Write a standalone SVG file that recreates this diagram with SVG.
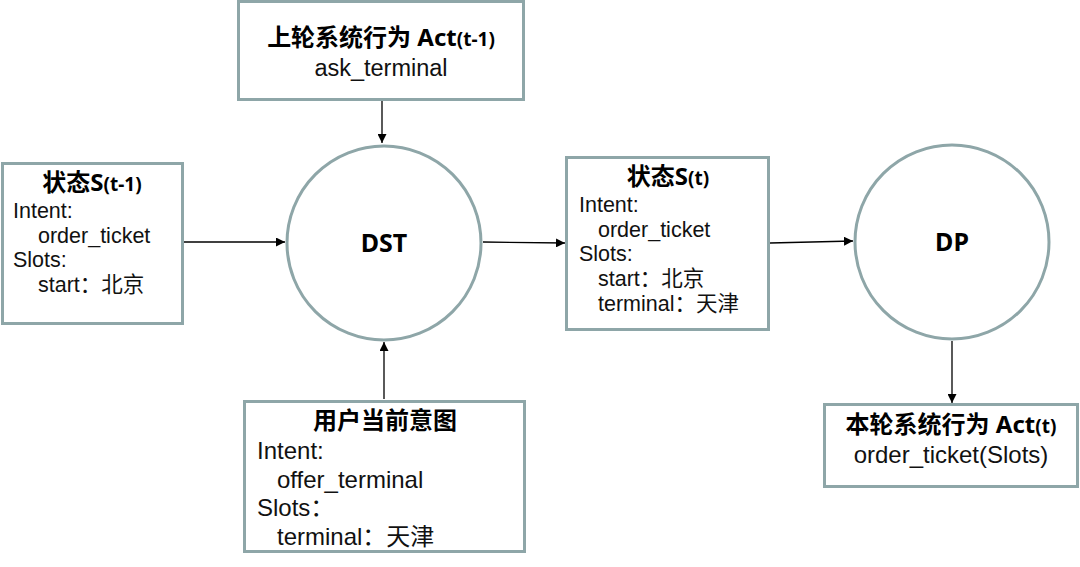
<svg xmlns="http://www.w3.org/2000/svg" width="1080" height="567" viewBox="0 0 1080 567">
<defs>
<marker id="ah" viewBox="0 0 10 10" refX="10" refY="5" markerWidth="9" markerHeight="9" markerUnits="userSpaceOnUse" orient="auto"><path d="M0,0 L10,5 L0,10 z" fill="#000"/></marker>
<style>
.box{fill:#fff;stroke:#8ea6a8;stroke-width:3}
.t{font-family:"Liberation Sans","Noto Sans CJK SC",sans-serif;font-size:21.5px;fill:#111}
.a{font-family:"Liberation Sans","Noto Sans CJK SC",sans-serif;font-size:24px;fill:#111}
.b{font-family:"Noto Sans","Noto Sans CJK SC",sans-serif;font-size:24px;font-weight:bold;fill:#000}
.s{font-size:19px}
.c{text-anchor:middle}
.ln{stroke:#000;stroke-width:1.3;fill:none;marker-end:url(#ah)}
</style>
</defs>
<rect width="1080" height="567" fill="#fff"/>
<g id="connectors">
<line class="ln" x1="382" y1="101" x2="382" y2="143"/>
<line class="ln" x1="184" y1="242" x2="285" y2="242"/>
<line class="ln" x1="483" y1="242" x2="565" y2="243"/>
<line class="ln" x1="770" y1="243" x2="853" y2="241"/>
<line class="ln" x1="952" y1="341" x2="952" y2="403"/>
<line class="ln" x1="384" y1="399" x2="384" y2="342"/>
</g>
<g id="prev-act">
<rect class="box" x="238.5" y="1.5" width="285" height="98"/>
<text class="b c" x="381" y="46">上轮系统行为 Act<tspan class="s">(t-1)</tspan></text>
<text class="a c" x="381" y="76" style="font-size:23.5px">ask_terminal</text>
</g>
<g id="state-prev">
<rect class="box" x="2.5" y="163.5" width="180" height="160"/>
<text class="b c" x="92" y="191">状态S<tspan class="s">(t-1)</tspan></text>
<text class="t" x="13" y="218">Intent:</text>
<text class="t" x="38" y="243">order_ticket</text>
<text class="t" x="13" y="267">Slots:</text>
<text class="t" x="38" y="292">start：北京</text>
</g>
<g id="dst">
<circle cx="384" cy="243" r="97" fill="#fff" stroke="#8ea6a8" stroke-width="3"/>
<text class="b c" x="384" y="252" style="font-size:25px">DST</text>
</g>
<g id="state-cur">
<rect class="box" x="566.5" y="157.5" width="202" height="172"/>
<text class="b c" x="668" y="185">状态S<tspan class="s">(t)</tspan></text>
<text class="t" x="579" y="212">Intent:</text>
<text class="t" x="598" y="237">order_ticket</text>
<text class="t" x="579" y="261">Slots:</text>
<text class="t" x="598" y="286">start：北京</text>
<text class="t" x="598" y="311">terminal：天津</text>
</g>
<g id="dp">
<circle cx="952" cy="242" r="97" fill="#fff" stroke="#8ea6a8" stroke-width="3"/>
<text class="b c" x="952" y="251" style="font-size:25px">DP</text>
</g>
<g id="user-intent">
<rect class="box" x="244.5" y="401.5" width="280" height="150"/>
<text class="b c" x="385" y="429">用户当前意图</text>
<text class="a" x="257" y="459">Intent:</text>
<text class="a" x="277" y="488">offer_terminal</text>
<text class="a" x="257" y="516">Slots：</text>
<text class="a" x="277" y="545">terminal：天津</text>
</g>
<g id="cur-act">
<rect class="box" x="824.5" y="404.5" width="253" height="82"/>
<text class="b c" x="951" y="433">本轮系统行为 Act<tspan class="s">(t)</tspan></text>
<text class="a c" x="951" y="463">order_ticket(Slots)</text>
</g>
</svg>
